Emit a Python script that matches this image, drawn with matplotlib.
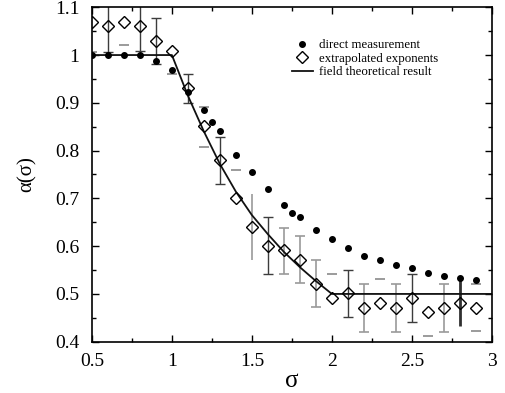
import matplotlib.pyplot as plt
import numpy as np

plt.rcParams['font.family'] = ['Liberation Serif', 'DejaVu Serif']

#------------- donnees -------------------------------------------------
nan = np.nan

# mesure directe (points noirs)
sigma_dir = [0.5, 0.6, 0.7, 0.8, 0.9, 1.0, 1.1, 1.2, 1.25, 1.3, 1.4, 1.5, 1.6, 1.7, 1.75,
             1.8, 1.9, 2.0, 2.1, 2.2, 2.3, 2.4, 2.5, 2.6, 2.7, 2.8, 2.9]
alpha_dir = [1.0, 1.0, 1.0, 1.0, 0.988, 0.969, 0.922, 0.885, 0.859, 0.841, 0.791, 0.755,
             0.720, 0.686, 0.669, 0.660, 0.634, 0.616, 0.597, 0.580, 0.570, 0.560, 0.554,
             0.544, 0.538, 0.534, 0.529]

# exposants extrapoles (losanges) + barres d'erreur
sigma_ext = [0.5, 0.6, 0.7, 0.8, 0.9, 1.0, 1.1, 1.2, 1.3, 1.4, 1.5, 1.6, 1.7,
             1.8, 1.9, 2.0, 2.1, 2.2, 2.3, 2.4, 2.5, 2.6, 2.7, 2.8, 2.9]
alpha_ext = [1.069, 1.060, 1.069, 1.060, 1.030, 1.009, 0.930, 0.852, 0.780, 0.700, 0.641,
             0.601, 0.591, 0.571, 0.521, 0.491, 0.501, 0.471, 0.481, 0.471, 0.491, 0.462,
             0.471, 0.481, 0.471]
ext_lo = [1.007, 1.007, 1.020, 1.009, 0.981, 0.960, 0.899, 0.808, 0.731, nan, 0.572,
          0.541, 0.541, 0.522, 0.472, nan, 0.451, 0.421, nan, 0.421, 0.442, 0.412,
          0.421, 0.433, 0.422]
ext_hi = [nan, 1.13, nan, 1.13, 1.078, nan, 0.960, 0.891, 0.829, 0.760, 0.709,
          0.660, 0.639, 0.621, 0.570, 0.542, 0.550, 0.521, 0.531, 0.521, 0.541, nan,
          0.521, 0.531, 0.521]

# resultat theorique
sigma_th = [0.5, 1.0, 1.1, 1.2, 1.3, 1.4, 1.5, 1.6, 1.7, 1.8, 1.9, 2.0, 3.0]
alpha_th = [1.0, 1.0, 0.915, 0.840, 0.772, 0.714, 0.665, 0.625, 0.588, 0.556, 0.527, 0.5, 0.5]

# type de barre pour chaque sigma
dark_bars = [0.6, 0.8, 0.9, 1.1, 1.3, 1.6, 2.1, 2.5]
gray_bars = [1.7, 1.8, 1.9, 2.2, 2.4, 2.7]
plain_bars = [1.5]
thick_bars = [2.8]
cap_only = [0.5, 0.7, 1.0, 1.2, 1.4, 2.0, 2.3, 2.6, 2.9]


def pick(sel):
    idx = [i for i, s in enumerate(sigma_ext) if any(abs(s - t) < 1e-6 for t in sel)]
    s = np.array([sigma_ext[i] for i in idx])
    a = np.array([alpha_ext[i] for i in idx])
    lo = np.array([ext_lo[i] for i in idx])
    hi = np.array([ext_hi[i] for i in idx])
    return s, a, lo, hi


#-------------------------- figure -------------------------------
fig = plt.figure(figsize=(5.05, 3.93), dpi=100)
ax = fig.add_axes([0.182, 0.1305, 0.792, 0.851])

s, a, lo, hi = pick(dark_bars)
ax.errorbar(s, a, yerr=[a - lo, hi - a], fmt='none', ecolor='#3c3c3c', elinewidth=1.0,
            capsize=3.5, capthick=1.0)
s, a, lo, hi = pick(gray_bars)
ax.errorbar(s, a, yerr=[a - lo, hi - a], fmt='none', ecolor='#9a9a9a', elinewidth=1.2,
            capsize=3.5, capthick=1.2)
s, a, lo, hi = pick(plain_bars)
ax.errorbar(s, a, yerr=[a - lo, hi - a], fmt='none', ecolor='#9a9a9a', elinewidth=1.2,
            capsize=0)
s, a, lo, hi = pick(thick_bars)
ax.errorbar(s, a, yerr=[a - lo, hi - a], fmt='none', ecolor='#303030', elinewidth=2.0,
            capsize=0)
s, a, lo, hi = pick(cap_only)
ax.plot(s, lo, '_', color='#8a8a8a', markersize=7, mew=1.2)
ax.plot(s, hi, '_', color='#8a8a8a', markersize=7, mew=1.2)

ax.plot(sigma_th, alpha_th, '-', color='#111111', lw=1.3, label='field theoretical result')
ax.plot(sigma_dir, alpha_dir, 'o', color='black', markersize=4, label='direct measurement')
ax.plot(sigma_ext, alpha_ext, 'D', mfc='none', mec='black', mew=1.0, markersize=6.5,
        label='extrapolated exponents')

#------------------ axes -----------------------------------------
ax.set_xlim(0.5, 3)
ax.set_ylim(0.4, 1.1)
ax.set_xticks([0.5, 1, 1.5, 2, 2.5, 3])
ax.set_xticklabels(['0.5', '1', '1.5', '2', '2.5', '3'])
ax.set_yticks([0.4, 0.5, 0.6, 0.7, 0.8, 0.9, 1.0, 1.1])
ax.set_yticklabels(['0.4', '0.5', '0.6', '0.7', '0.8', '0.9', '1', '1.1'])
ax.set_xticks(np.arange(0.75, 3, 0.5), minor=True)
ax.set_yticks(np.arange(0.45, 1.1, 0.1), minor=True)
ax.tick_params(which='both', direction='in', top=True, right=True, width=1.0)
ax.tick_params(which='major', length=5, labelsize=14)
ax.tick_params(axis='y', which='major', pad=9)
ax.tick_params(axis='x', which='major', pad=8)
ax.tick_params(which='minor', length=3)
for sp in ax.spines.values():
    sp.set_linewidth(1.2)

ax.set_xlabel('σ', fontsize=18, labelpad=0)
ax.set_ylabel('α(σ)', fontsize=15, labelpad=13)

h, l = ax.get_legend_handles_labels()
order = [1, 2, 0]
ax.legend([h[i] for i in order], [l[i] for i in order], loc='upper left',
          bbox_to_anchor=(0.5, 0.905), frameon=False, fontsize=9.3, borderpad=0,
          borderaxespad=0, handlelength=1.6, handletextpad=0.5, labelspacing=0.12)

plt.savefig('out.png', dpi=100)
